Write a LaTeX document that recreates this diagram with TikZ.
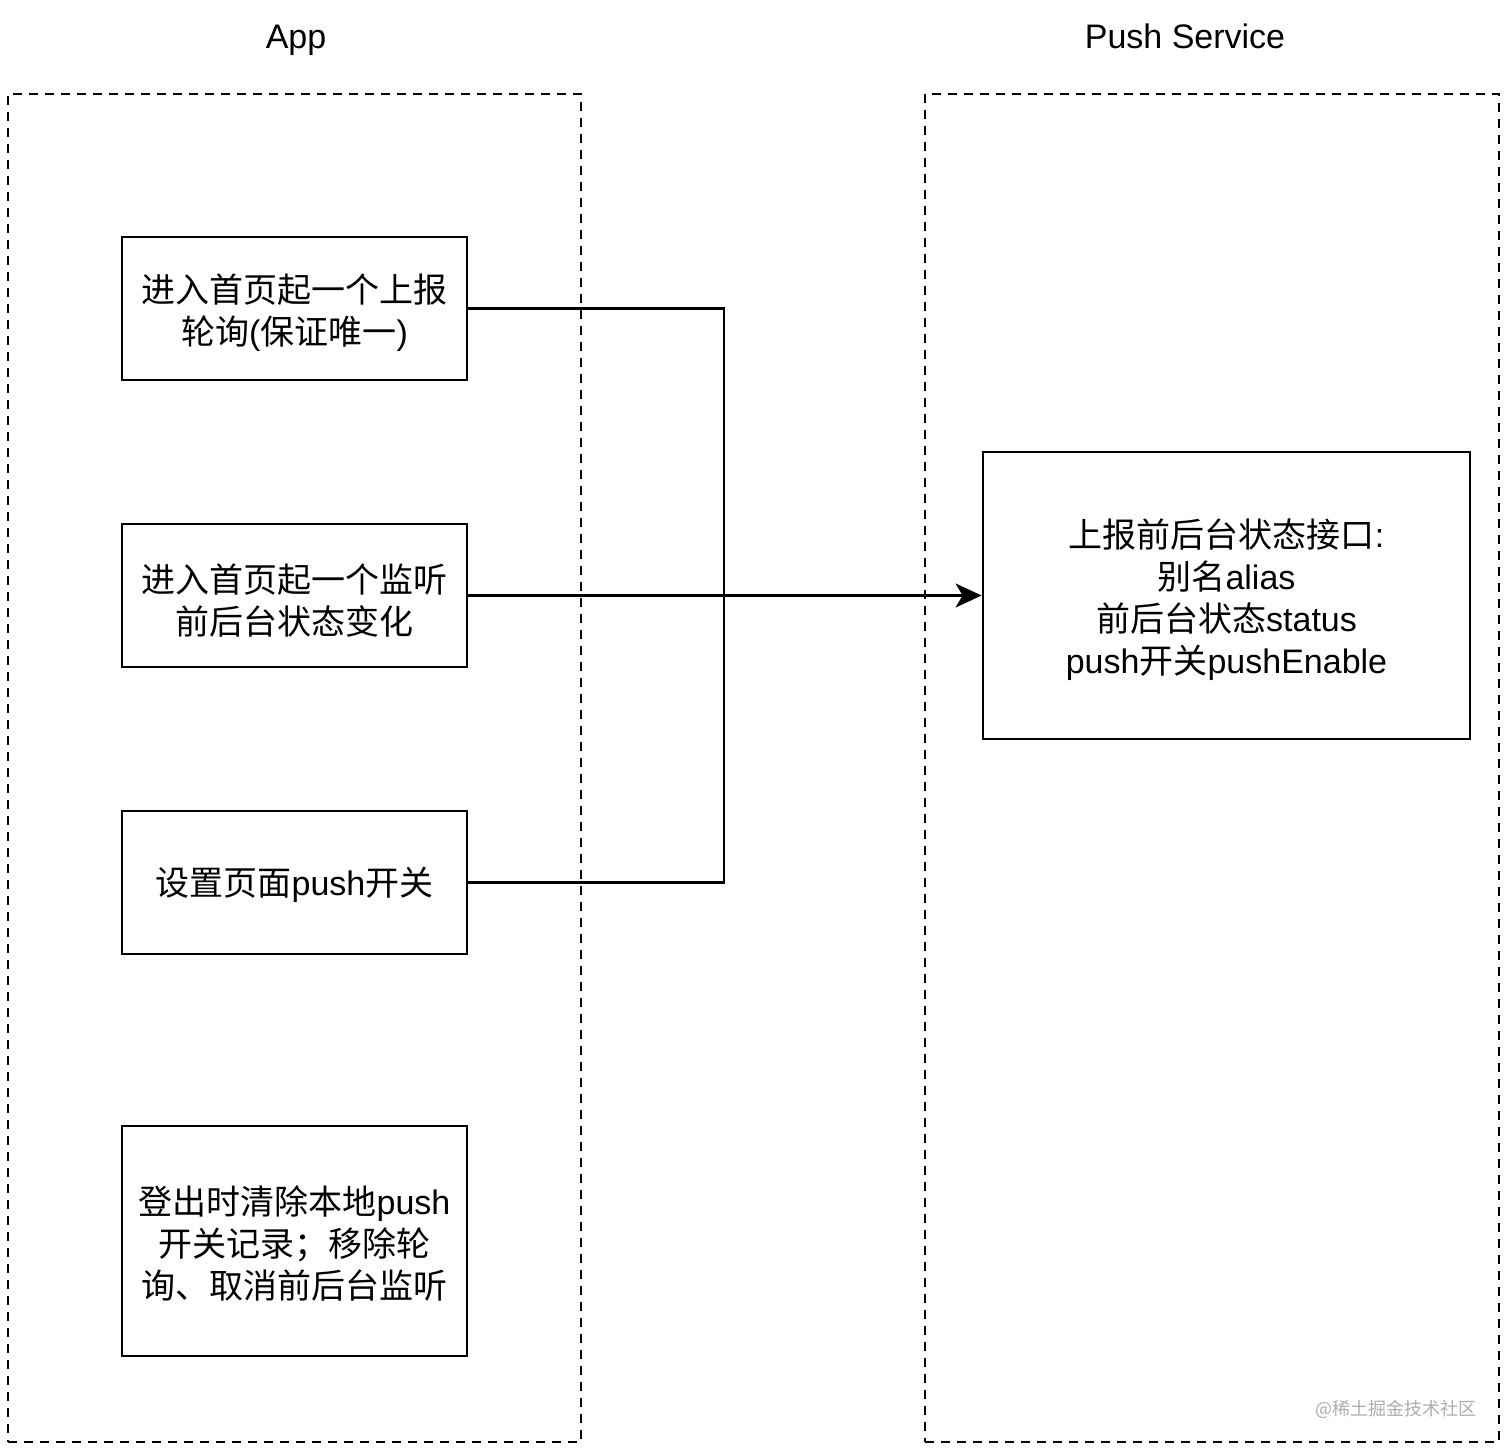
\documentclass[tikz,border=0pt]{standalone}
\usepackage{fontspec}
\setmainfont{Noto Sans CJK SC}
\newfontfamily\lat{Liberation Sans}
\usetikzlibrary{arrows.meta}
\newcommand{\toppad}{\rule{0pt}{19pt}}
\begin{document}
\begin{tikzpicture}[x=0.5pt,y=-0.5pt,
  container/.style={draw, dash pattern=on 4.5pt off 3.5pt, line width=1pt, inner sep=0},
  box/.style={draw, line width=1.4pt, align=center, inner sep=0, font=\fontsize{17}{21}\selectfont},
  conn/.style={line width=1.1pt},
  title/.style={font=\lat\fontsize{17}{21}\selectfont, anchor=base}]
\useasboundingbox (0,0) rectangle (1512,1455);
% containers
\node[container, minimum width=286.5pt, minimum height=674pt] (app) at (294.5,768) {};
\node[container, minimum width=287pt, minimum height=674pt] (push) at (1212,768) {};
\node[title] (tapp) at (296,49) {App};
\node[title] (tpush) at (1185,49) {Push Service};
% boxes
\node[box, minimum width=172.5pt, minimum height=71.5pt] (b1) at (294.5,308.5) {\toppad 进入首页起一个上报\\轮询{\lat(}保证唯一{\lat)}};
\node[box, minimum width=172.5pt, minimum height=71.5pt] (b2) at (294.5,595.5) {\toppad 进入首页起一个监听\\前后台状态变化};
\node[box, minimum width=172.5pt, minimum height=71.5pt] (b3) at (294.5,882.5) {\rule{0pt}{17pt}设置页面{\lat push}开关};
\node[box, minimum width=172.5pt, minimum height=115pt] (b4) at (294.5,1241) {\rule{0pt}{17pt}登出时清除本地{\lat push}\\开关记录；移除轮\\询、取消前后台监听};
\node[box, minimum width=243.5pt, minimum height=143.5pt] (svc) at (1226.5,595.5) {\toppad 上报前后台状态接口{\lat:}\\别名{\lat alias}\\前后台状态{\lat status}\\{\lat push}开关{\lat pushEnable}};
% connectors
\coordinate (j) at (724,595.5);
\draw[conn] (b1.east) -| (j);
\draw[conn] (b3.east) -| (j);
\draw[conn, -{Stealth[length=13pt, width=12pt, inset=3.5pt]}] (b2.east) -- (svc.west);
% watermark
\node[font=\fontsize{9}{11}\selectfont, text=black!32] (wm) at (1396,1409) {@稀土掘金技术社区};
\end{tikzpicture}
\end{document}
